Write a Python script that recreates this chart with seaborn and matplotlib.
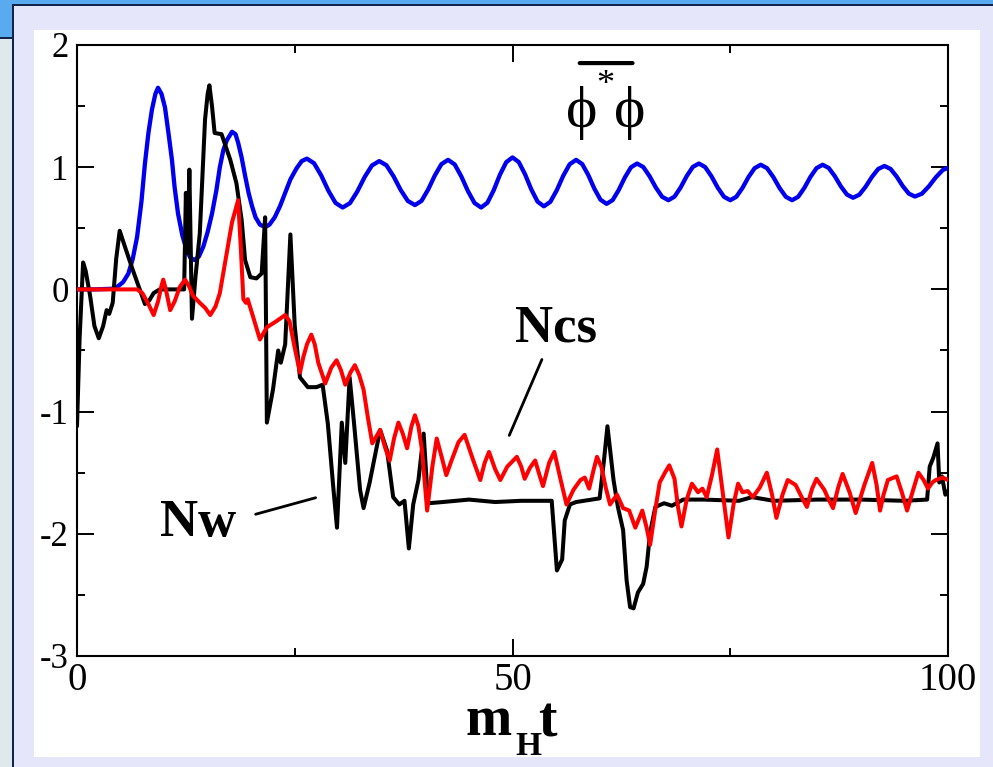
import matplotlib
matplotlib.use("Agg")
import matplotlib.pyplot as plt
from matplotlib.patches import Rectangle
from matplotlib.ticker import MultipleLocator
import seaborn as sns
import pandas as pd

# ---------------- data ----------------
phi_t = [0, 2, 4, 4.6, 5.3, 5.9, 6.4, 6.9, 7.4, 7.8, 8.2, 8.6, 9.0, 9.3, 9.7, 10.1, 10.5, 10.9,
         11.2, 11.6, 12.1, 12.6, 13.0, 13.5, 14.0, 14.5, 15.0, 15.5, 16.0, 16.4, 16.8, 17.2, 17.8,
         18.2, 18.5, 18.9, 19.3, 19.7, 20.1, 20.5, 21.0, 21.6, 22.1, 22.7, 23.3, 23.9, 24.5, 25.2,
         25.8, 26.4,
         27.22, 28.04, 28.86, 29.68, 30.5, 31.34, 32.18, 33.02, 33.86, 34.7, 35.52, 36.34, 37.16,
         37.98, 38.8, 39.56, 40.32, 41.08, 41.84, 42.6, 43.36, 44.12, 44.88, 45.64, 46.4, 47.12,
         47.84, 48.56, 49.28, 50.0, 50.72, 51.44, 52.16, 52.88, 53.6, 54.34, 55.08, 55.82, 56.56,
         57.3, 58.0, 58.7, 59.4, 60.1, 60.8, 61.5, 62.2, 62.9, 63.6, 64.3, 65.02, 65.74, 66.46,
         67.18, 67.9, 68.6, 69.3, 70.0, 70.7, 71.4, 72.12, 72.84, 73.56, 74.28, 75.0, 75.7, 76.4,
         77.1, 77.8, 78.5, 79.22, 79.94, 80.66, 81.38, 82.1, 82.8, 83.5, 84.2, 84.9, 85.6, 86.3,
         87.0, 87.7, 88.4, 89.1, 89.82, 90.54, 91.26, 91.98, 92.7, 93.4, 94.1, 94.8, 95.5, 96.2,
         97.0, 97.8, 98.6, 99.4, 100.0]
phi_v = [0.0, 0.0, 0.005, 0.02, 0.06, 0.13, 0.25, 0.43, 0.72, 1.03, 1.28, 1.47, 1.60, 1.65, 1.60,
         1.49, 1.28, 1.06, 0.84, 0.62, 0.44, 0.32, 0.26, 0.24, 0.27, 0.35, 0.47, 0.62, 0.81, 1.00,
         1.14, 1.22, 1.29, 1.27, 1.20, 1.08, 0.93, 0.79, 0.68, 0.59, 0.53, 0.51, 0.53, 0.59, 0.68,
         0.79, 0.90, 0.99, 1.05, 1.07,
         1.032, 0.932, 0.808, 0.708, 0.67, 0.706, 0.801, 0.919, 1.014, 1.05, 1.016, 0.926, 0.814,
         0.724, 0.69, 0.725, 0.818, 0.932, 1.025, 1.06, 1.023, 0.925, 0.805, 0.707, 0.67, 0.709,
         0.811, 0.939, 1.041, 1.08, 1.042, 0.942, 0.818, 0.718, 0.68, 0.716, 0.811, 0.929, 1.024,
         1.06, 1.026, 0.936, 0.824, 0.734, 0.70, 0.731, 0.814, 0.916, 0.999, 1.03, 1.001, 0.926,
         0.833, 0.758, 0.73, 0.759, 0.834, 0.927, 1.002, 1.03, 1.001, 0.926, 0.833, 0.758, 0.73,
         0.758, 0.830, 0.920, 0.992, 1.02, 0.992, 0.920, 0.830, 0.758, 0.73, 0.758, 0.830, 0.920,
         0.992, 1.02, 0.994, 0.927, 0.843, 0.776, 0.75, 0.775, 0.840, 0.920, 0.985, 1.01, 0.986,
         0.924, 0.846, 0.784, 0.76, 0.783, 0.843, 0.917, 0.977, 0.995]

nw_t = [0, 0.3, 0.7, 1.0, 1.5, 2.0, 2.5, 3.0, 3.4, 3.7, 4.1, 4.5, 4.9, 5.5, 6.4, 7.2, 7.8, 8.3,
        8.8, 9.5, 10.5, 12.3, 12.5, 12.7, 12.9, 13.2, 13.6, 14.1, 14.7, 15.0, 15.2, 15.5, 15.8,
        16.6, 17.6, 18.3, 18.9, 19.3, 19.9, 20.6, 21.2, 21.6, 21.8, 22.5, 23.1, 23.4, 23.9, 24.5,
        25.0, 25.6, 26.5, 27.5, 28.2, 28.8, 29.4, 29.85, 30.4, 30.8, 31.3, 31.8, 32.5, 32.9, 33.6,
        34.8, 35.6, 36.3, 37.0, 37.6, 38.1, 38.6, 39.2, 39.8, 40.3, 42.0, 45.0, 48.0, 51.0, 54.5,
        55.1, 55.7, 56.0, 56.6, 57.3, 60.0, 60.5, 60.9, 61.6, 62.1, 62.7, 63.1, 63.5, 63.9, 64.4,
        65.0, 65.4, 65.8, 66.4, 67.4, 68.3, 69.6, 72.0, 76.0, 77.5, 80.0, 85.0, 90.0, 95.0, 97.6,
        97.9, 98.3, 98.8, 99.0, 99.3, 99.7, 100.0]
nw_v = [-1.12, -0.40, 0.22, 0.15, -0.05, -0.30, -0.40, -0.30, -0.17, -0.20, -0.11, 0.25, 0.48,
        0.35, 0.16, 0.0, -0.12, -0.09, -0.03, 0.0, 0.0, 0.0, 0.79, 0.30, 0.98, -0.24, 0.10, 0.46,
        1.39, 1.60, 1.67, 1.50, 1.28, 1.27, 1.06, 0.87, 0.57, 0.24, 0.10, 0.09, 0.13, 0.59,
        -1.09, -0.82, -0.50, -0.60, -0.45, 0.45, -0.30, -0.72, -0.80, -0.80, -0.78, -1.10,
        -1.60, -1.95, -1.09, -1.42, -0.72, -1.09, -1.64, -1.79, -1.58, -1.15, -1.32, -1.70,
        -1.76, -1.73, -2.12, -1.76, -1.56, -1.18, -1.75, -1.74, -1.72, -1.74, -1.73, -1.73,
        -2.30, -2.21, -1.89, -1.76, -1.74, -1.71, -1.40, -1.12, -1.56, -1.78, -1.97, -2.38,
        -2.60, -2.61, -2.48, -2.41, -2.27, -1.99, -1.78, -1.75, -1.77, -1.72, -1.72, -1.73,
        -1.70, -1.73, -1.72, -1.72, -1.73, -1.72, -1.45, -1.38, -1.26, -1.58, -1.53, -1.68,
        -1.65]

ncs_t = [0, 6.9, 7.5, 8.2, 8.8, 9.3, 9.7, 9.9, 10.2, 10.7, 11.2, 11.8, 12.4, 12.9, 13.3, 14.1,
         14.7, 15.3, 15.9, 16.4, 17.2, 17.8, 18.5, 18.8, 19.1, 19.4, 19.6, 20.2, 21.0, 21.8,
         22.9, 23.9, 24.4, 25.0, 25.6, 26.0, 26.4, 26.9, 27.3, 27.7, 28.5, 29.2, 29.8, 30.3, 30.8,
         31.4, 31.9, 32.4, 32.9, 33.4, 33.9, 34.4, 34.8, 35.4, 35.9, 36.4, 36.9, 37.4, 37.9, 38.4,
         38.8, 39.2, 39.6, 40.2, 40.8, 41.3, 41.9, 42.4, 43.0, 43.8, 44.5, 45.4, 46.3, 46.8, 47.3,
         48.0, 48.6, 49.4, 50.5, 51.0, 51.4, 52.0, 52.6, 53.1, 53.5, 54.2, 54.8, 55.5, 56.2, 57.0,
         57.8, 58.3, 58.8, 59.3, 59.7, 60.2, 60.7, 61.2, 62.0, 62.7, 63.4, 64.1, 64.5, 64.9, 65.4,
         65.8, 66.4, 66.9, 67.5, 68.0, 68.6, 69.0, 69.4, 70.0, 70.6, 71.3, 71.8, 72.3, 72.9, 73.5,
         74.2, 74.8, 75.4, 75.9, 76.4, 77.0, 77.6, 78.4, 79.2, 79.8, 80.3, 81.0, 81.6, 82.5, 83.2,
         83.8, 84.4, 84.9, 85.8, 86.3, 86.8, 87.4, 87.9, 88.7, 89.4, 90.4, 91.3, 91.8, 92.2, 92.6,
         93.1, 94.1, 94.7, 95.3, 96.0, 96.6, 97.2, 97.7, 98.2, 98.6, 99.4, 100.0]
ncs_v = [0.0, 0.0, -0.03, -0.12, -0.21, -0.10, 0.03, 0.08, 0.0, -0.17, -0.10, 0.02, 0.08, 0.02,
         -0.05, -0.11, -0.15, -0.21, -0.14, -0.03, 0.30, 0.55, 0.73, 0.35, -0.08, -0.11, -0.08,
         -0.22, -0.41, -0.31, -0.26, -0.21, -0.26, -0.48, -0.68, -0.55, -0.45, -0.37, -0.45,
         -0.60, -0.77, -0.64, -0.58, -0.66, -0.78, -0.68, -0.62, -0.70, -0.82, -1.05, -1.26,
         -1.20, -1.15, -1.30, -1.40, -1.22, -1.09, -1.18, -1.30, -1.12, -1.03, -1.12, -1.31,
         -1.81, -1.45, -1.22, -1.38, -1.52, -1.40, -1.25, -1.19, -1.38, -1.56, -1.42, -1.33,
         -1.47, -1.56, -1.45, -1.37, -1.45, -1.55, -1.46, -1.40, -1.52, -1.61, -1.42, -1.33,
         -1.55, -1.76, -1.64, -1.56, -1.54, -1.63, -1.48, -1.37, -1.45, -1.62, -1.76, -1.68,
         -1.79, -1.81, -1.95, -1.88, -1.81, -1.95, -2.09, -1.80, -1.58, -1.50, -1.44, -1.55,
         -1.78, -1.94, -1.72, -1.59, -1.66, -1.63, -1.70, -1.52, -1.31, -1.70, -2.03, -1.75,
         -1.59, -1.66, -1.65, -1.70, -1.62, -1.50, -1.68, -1.87, -1.68, -1.56, -1.60, -1.70,
         -1.78, -1.63, -1.55, -1.64, -1.72, -1.79, -1.62, -1.51, -1.66, -1.83, -1.60, -1.42,
         -1.60, -1.81, -1.68, -1.56, -1.53, -1.66, -1.81, -1.64, -1.50, -1.56, -1.63, -1.58,
         -1.56, -1.54, -1.56]

x_ticks = [0, 50, 100]
y_ticks = [-3, -2, -1, 0, 1, 2]

# ---------------- style ----------------
sns.set_theme(style="white")
plt.rcParams["font.family"] = ["Liberation Serif", "DejaVu Serif"]
plt.rcParams["axes.unicode_minus"] = False
plt.rcParams["text.color"] = "black"
plt.rcParams["xtick.color"] = "black"
plt.rcParams["ytick.color"] = "black"
plt.rcParams["axes.labelcolor"] = "black"
plt.rcParams["mathtext.fontset"] = "custom"
plt.rcParams["mathtext.bf"] = "Liberation Serif:bold"
plt.rcParams["mathtext.rm"] = "Liberation Serif"

W, H = 993, 767
fig = plt.figure(figsize=(W / 100, H / 100), dpi=100, facecolor="#e6e6fa")


def rect(x0, y0, x1, y1, color):
    fig.add_artist(Rectangle((x0 / W, 1 - y1 / H), (x1 - x0) / W, (y1 - y0) / H,
                             transform=fig.transFigure, facecolor=color,
                             edgecolor="none", zorder=0))


rect(0, 0, W, 5, "#5aaaf0")
rect(0, 0, 12, 37, "#5aaaf0")
rect(0, 38, 12, H, "#dde9ea")
rect(0, 37, 12, 39, "#12244a")
rect(12, 4, W, 6, "#12244a")
rect(12, 4, 14, H, "#12244a")
rect(34, 30, 980, 757, "white")

ax = fig.add_axes([77 / W, 1 - 656 / H, (948 - 77) / W, (656 - 45) / H])
ax.set_facecolor("white")

df_phi = pd.DataFrame({"t": phi_t, "v": phi_v})
df_nw = pd.DataFrame({"t": nw_t, "v": nw_v})
df_ncs = pd.DataFrame({"t": ncs_t, "v": ncs_v})

common = dict(estimator=None, sort=False, solid_joinstyle="round", solid_capstyle="round")
sns.lineplot(data=df_phi, x="t", y="v", ax=ax, color="#0000ee", lw=3.1, zorder=3, **common)
sns.lineplot(data=df_nw, x="t", y="v", ax=ax, color="black", lw=2.9, zorder=4, **common)
sns.lineplot(data=df_ncs, x="t", y="v", ax=ax, color="#ff0000", lw=2.9, zorder=5, **common)

ax.set_xlim(0, 100)
ax.set_ylim(-3, 2)
ax.set_xticks(x_ticks)
ax.set_yticks(y_ticks)
ax.set_xticklabels([str(v) for v in x_ticks])
ax.set_yticklabels([str(v) for v in y_ticks])
ax.xaxis.set_minor_locator(MultipleLocator(25))
ax.yaxis.set_minor_locator(MultipleLocator(0.5))
ax.tick_params(which="both", direction="in", top=True, right=True, bottom=True, left=True,
               width=1.4, color="black", labelcolor="black")
ax.tick_params(which="major", length=12)
ax.tick_params(which="minor", length=6)
ax.tick_params(axis="x", which="major", labelsize=28, pad=4)
ax.tick_params(axis="y", which="major", labelsize=25, pad=6)
for s in ax.spines.values():
    s.set_linewidth(1.5)
    s.set_color("black")
ax.set_xlabel("")
ax.set_ylabel("")

# annotations
ax.text(55.0, -0.43, "Ncs", ha="center", va="baseline", fontsize=38, fontweight="bold",
        color="black")
ax.annotate("", xy=(49.5, -1.216), xytext=(53.5, -0.553),
            arrowprops=dict(arrowstyle="-", lw=2, color="black"))
ax.text(13.95, -2.02, "Nw", ha="center", va="baseline", fontsize=38, fontweight="bold",
        color="black")
ax.annotate("", xy=(27.7, -1.699), xytext=(20.2, -1.846),
            arrowprops=dict(arrowstyle="-", lw=2, color="black"))

ax.text(57.9, 1.33, "\u03d5", ha="center", va="baseline", fontsize=43, color="black")
ax.text(63.5, 1.33, "\u03d5", ha="center", va="baseline", fontsize=43, color="black")
ax.text(60.6, 1.67, "*", ha="center", va="center", fontsize=26, color="black")
ax.annotate("", xy=(64.1, 1.852), xytext=(57.4, 1.852),
            arrowprops=dict(arrowstyle="-", lw=3, color="black"))

# x-axis label m_H t (built from text pieces)
fig.text(465 / W, 1 - 735 / H, r"$\mathbf{m}$", ha="left", va="baseline", fontsize=40)
fig.text(515 / W, 1 - 755 / H, r"$\mathbf{H}$", ha="left", va="baseline", fontsize=24)
fig.text(538 / W, 1 - 735 / H, r"$\mathbf{t}$", ha="left", va="baseline", fontsize=40)

fig.savefig("out.png", dpi=100, facecolor=fig.get_facecolor())
